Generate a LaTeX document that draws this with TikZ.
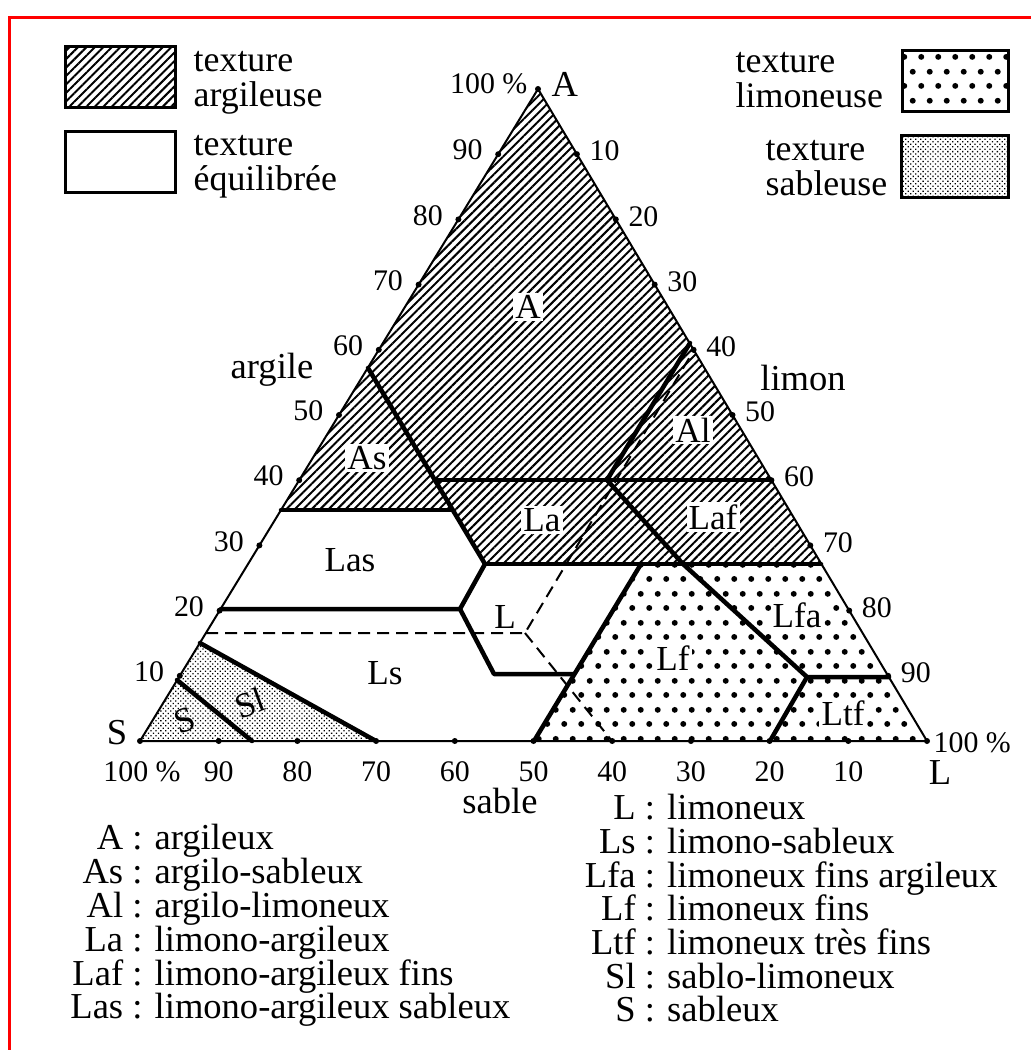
\documentclass[tikz,border=0pt]{standalone}
\usepackage{fontspec}
\setmainfont{Liberation Serif}
\usetikzlibrary{calc, patterns, patterns.meta}

\pgfdeclarepatternformonly{limdots}{\pgfpointorigin}{\pgfpoint{1.7mm}{2.9mm}}{\pgfpoint{1.7mm}{2.9mm}}{%
  \pgfpathcircle{\pgfpoint{0.425mm}{0.725mm}}{0.3mm}%
  \pgfpathcircle{\pgfpoint{1.275mm}{2.175mm}}{0.3mm}%
  \pgfusepath{fill}%
}

\tikzset{
  redframe/.style={draw=red, line width=0.3mm},
  side/.style={line width=0.2mm},
  bnd/.style={line width=0.45mm, line cap=round, line join=round},
  dsh/.style={line width=0.2mm, dash pattern=on 1.2mm off 0.7mm},
  argfill/.style={pattern={Lines[angle=45, distance=0.6mm, line width=0.2mm]}},
  limfill/.style={pattern=limdots},
  sabfill/.style={pattern={Dots[angle=45, distance=0.35mm, radius=0.09mm]}},
  tickdot/.style={circle, fill, inner sep=0pt, minimum size=0.6mm},
  num/.style={font=\fontsize{8.5}{10}\selectfont, inner sep=0pt},
  lbl/.style={font=\fontsize{10.4}{12}\selectfont, inner sep=0pt},
  zone/.style={font=\fontsize{10}{12}\selectfont, fill=white, inner sep=0.6pt},
  keybox/.style={draw, line width=0.3mm, minimum width=11mm, minimum height=6.1mm, inner sep=0pt},
  keytxt/.style={font=\fontsize{10.2}{9.9}\selectfont, align=left, inner sep=0pt, anchor=west},
}

\begin{document}
\begin{tikzpicture}[x=0.1mm, y=-0.1mm]
  \useasboundingbox (0,0) rectangle (1031,1050);
  \draw[redframe] (9,1050) -- (9,18) -- (1031,18);

  % sommets du triangle
  \coordinate (A) at (538,89);
  \coordinate (S) at (140,741);
  \coordinate (L) at (927,741);

  % limites des classes
  \coordinate (asT) at (368,368);
  \coordinate (asM) at (435,480);
  \coordinate (asB) at (452.5,510);
  \coordinate (laB) at (485,564);
  \coordinate (e35) at (281,510);
  \coordinate (e40) at (771,480);
  \coordinate (alT) at (690,343);
  \coordinate (alB) at (607,480);
  \coordinate (lafM) at (683,564);
  \coordinate (lfaB) at (807,677);
  \coordinate (e90) at (889,677);
  \coordinate (ltfB) at (770,741);
  \coordinate (lfT) at (641,564);
  \coordinate (lfB) at (534,741);
  \coordinate (e70) at (821,564);
  \coordinate (lW) at (460,609);
  \coordinate (e20) at (221,609);
  \coordinate (lSW) at (494,674);
  \coordinate (lSE) at (574,674);
  \coordinate (dT) at (694,350);
  \coordinate (dC) at (525,633);
  \coordinate (dW) at (206,633);
  \coordinate (dB) at (612,741);
  \coordinate (slT) at (200,643);
  \coordinate (slB) at (376,741);
  \coordinate (sT) at (177,680);
  \coordinate (sB) at (252,741);

  \fill[argfill] (A) -- (e70) -- (laB) -- (asB) -- (e35) -- cycle;
  \fill[limfill] (lfT) -- (e70) -- (L) -- (lfB) -- cycle;
  \fill[sabfill] (slT) -- (slB) -- (S) -- cycle;

  \draw[dsh] (dW) -- (dC) -- (dT);
  \draw[dsh] (dC) -- (dB);

  \draw[bnd] (asT) -- (laB);
  \draw[bnd] (e35) -- (asB);
  \draw[bnd] (asM) -- (e40);
  \draw[bnd] (alT) -- (alB) -- (lafM) -- (lfaB) -- (e90);
  \draw[bnd] (lfaB) -- (ltfB);
  \draw[bnd] (lfT) -- (lfB);
  \draw[bnd] (laB) -- (e70);
  \draw[bnd] (e20) -- (lW) -- (laB);
  \draw[bnd] (lW) -- (lSW) -- (lSE);
  \draw[bnd] (slT) -- (slB);
  \draw[bnd] (sT) -- (sB);

  \draw[side] (A) -- (L) -- (S) -- cycle;

  % graduations
  \node[tickdot] (kA) at (A) {};
  \node[tickdot] (kS) at (S) {};
  \node[tickdot] (kL) at (L) {};
  \foreach \i in {1,...,9} {
    \node[tickdot] (ka\i) at ($(S)!\i/10!(A)$) {};
    \node[num, anchor=east] (na\i) at ([shift={(-15,-4)}]ka\i) {\i0};
    \node[tickdot] (kl\i) at ($(A)!\i/10!(L)$) {};
    \node[num, anchor=west] (nl\i) at ([shift={(12,-3)}]kl\i) {\i0};
    \node[tickdot] (ks\i) at ($(L)!\i/10!(S)$) {};
    \node[num] (ns\i) at ([shift={(0,31)}]ks\i) {\i0};
  }
  \node[num, anchor=east] (pA) at (528,84) {100~\%};
  \node[lbl, anchor=west] (tA) at (551,84) {A};
  \node[lbl] (tS) at (117,733) {S};
  \node[num] (pS) at (142,772) {100~\%};
  \node[num, anchor=west] (pL) at (933,743) {100~\%};
  \node[lbl] (tL) at (940,773) {L};

  \node[lbl] (argile) at (272,370) {argile};
  \node[lbl] (limon) at (803,378) {limon};
  \node[lbl] (sable) at (500,801) {sable};

  % classes
  \node[zone] (zA) at (528,307) {A};
  \node[zone] (zAs) at (367,458) {As};
  \node[zone] (zAl) at (693,430) {Al};
  \node[zone] (zLa) at (542,520) {La};
  \node[zone] (zLaf) at (713,517) {Laf};
  \node[zone] (zLas) at (350,560) {Las};
  \node[zone] (zL) at (505,617) {L};
  \node[zone] (zLs) at (385,673) {Ls};
  \node[zone] (zLfa) at (797,615) {Lfa};
  \node[zone] (zLf) at (673,658) {Lf};
  \node[zone] (zLtf) at (843,713) {Ltf};
  \node[zone, fill=none, rotate=20] (zSl) at (250,703) {Sl};
  \node[zone, fill=none, rotate=20] (zS) at (185,720) {S};

  % légende des textures
  \node[keybox, argfill] (bArg) at (120.5,77) {};
  \node[keytxt] (tArg) at (193,83) {texture\\argileuse};
  \node[keybox] (bEq) at (120.5,162.5) {};
  \node[keytxt] (tEq) at (193,167) {texture\\équilibrée};
  \node[keybox, limfill, minimum width=10.6mm] (bLim) at (955,81.5) {};
  \node[keytxt] (tLim) at (735,80) {texture\\limoneuse};
  \node[keybox, sabfill, minimum width=10.7mm, minimum height=6.2mm] (bSab) at (954.5,167) {};
  \node[keytxt] (tSab) at (765,168) {texture\\sableuse};

  % légende des classes
  \foreach \ab/\txt [count=\i] in {A/argileux, As/argilo-sableux, Al/argilo-limoneux,
      La/limono-argileux, Laf/limono-argileux fins, Las/limono-argileux sableux} {
    \node[lbl, anchor=mid west] (cg\i) at (122.5,{808+33.8*\i}) {\llap{\ab} : \txt};
  }
  \foreach \ab/\txt [count=\i] in {L/limoneux, Ls/limono-sableux, Lfa/limoneux fins argileux,
      Lf/limoneux fins, Ltf/limoneux très fins, Sl/sablo-limoneux, S/sableux} {
    \node[lbl, anchor=mid west] (cd\i) at (635,{778+33.7*\i}) {\llap{\ab} : \txt};
  }
\end{tikzpicture}
\end{document}
